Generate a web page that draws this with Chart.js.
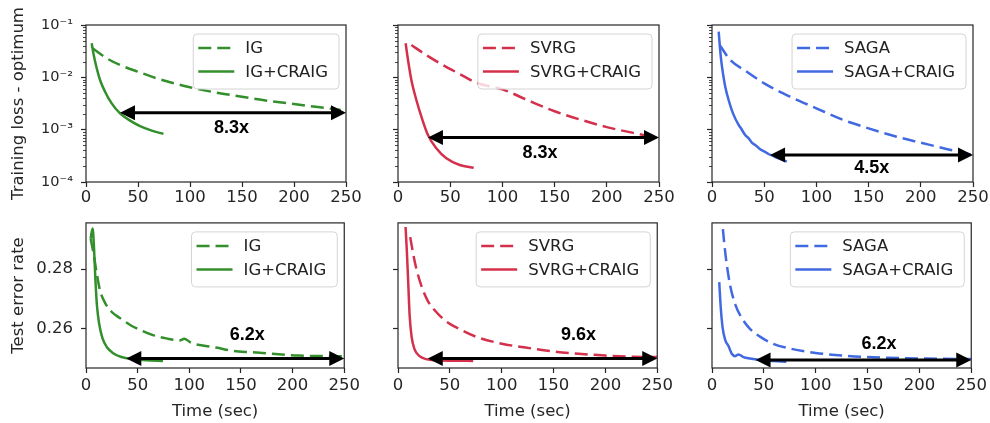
<!DOCTYPE html>
<html lang="en">
<head>
<meta charset="UTF-8">
<title>CRAIG speedup</title>
<script src="https://cdn.jsdelivr.net/npm/chart.js"></script>
<style>
  body{margin:0; background:#fff; width:990px; height:423px; position:relative; overflow:hidden;}
  .panel{position:absolute;}
</style>
</head>
<body>
<div class="panel" id="p0"><canvas id="c0"></canvas></div>
<div class="panel" id="p1"><canvas id="c1"></canvas></div>
<div class="panel" id="p2"><canvas id="c2"></canvas></div>
<div class="panel" id="p3"><canvas id="c3"></canvas></div>
<div class="panel" id="p4"><canvas id="c4"></canvas></div>
<div class="panel" id="p5"><canvas id="c5"></canvas></div>
<script>
// ---- values (time in sec) ----
const timeTicks = [0, 50, 100, 150, 200, 250];
const lossTicks = [1e-4, 1e-3, 1e-2, 1e-1];
const lossTickLabels = ['10⁻⁴', '10⁻³', '10⁻²', '10⁻¹'];
const errTicks = [0.26, 0.28];

// training loss - optimum
const igTrainTime   = [6.4, 19.9, 32.7, 50, 68, 87.3, 100, 125.8, 149.9, 174, 200, 225, 245];
const igTrainLoss   = [0.0358, 0.0231, 0.0172, 0.0128, 0.00957, 0.00746, 0.00644, 0.00509, 0.00427, 0.00358, 0.00309, 0.00267, 0.00238];
const igCTrainTime  = [5.5, 7.1, 10.3, 13.5, 18.3, 24.7, 32.7, 42.4, 52, 63.2, 74.5];
const igCTrainLoss  = [0.0447, 0.0288, 0.0149, 0.0089, 0.00532, 0.00318, 0.00205, 0.00149, 0.00117, 0.00096, 0.00083];

const svrgTrainTime  = [12.8, 27, 43, 59, 75, 100, 125, 150, 175, 200, 238];
const svrgTrainLoss  = [0.0415, 0.0267, 0.0172, 0.0116, 0.0079, 0.0059, 0.0036, 0.00225, 0.00155, 0.00112, 0.00077];
const svrgCTrainTime = [7.3, 9.6, 12.8, 17.6, 22.4, 28.7, 36.7, 46.3, 59.1, 72.5];
const svrgCTrainLoss = [0.0447, 0.0214, 0.0089, 0.00369, 0.00177, 0.00079, 0.00044, 0.000283, 0.000211, 0.000188];

const sagaTrainTime  = [7.3, 17.5, 33.4, 50, 74.8, 100, 125.8, 150, 176.8, 200, 224.5, 250];
const sagaTrainLoss  = [0.0415, 0.0214, 0.0128, 0.00767, 0.00427, 0.00256, 0.00153, 0.00106, 0.000734, 0.000565, 0.000428, 0.000328];
const sagaCTrainTime = [6.4, 7.3, 8.6, 10.5, 12.7, 15.9, 20.1, 25.5, 28, 31.8, 35, 38.2, 42, 46.2, 50, 54.1, 58, 63.7, 67, 71.7];
const sagaCTrainLoss = [0.0746, 0.0447, 0.0231, 0.0119, 0.00664, 0.00369, 0.00205, 0.00123, 0.00104, 0.00079, 0.00069, 0.000565, 0.000500, 0.000421, 0.000385, 0.000343, 0.000318, 0.000283, 0.000268, 0.000245];

// test error rate
const igTestTime   = [4.5, 7.7, 10.3, 13.5, 18.3, 24.7, 32.7, 42.4, 52, 64.8, 77.7, 90.5, 95.3, 101.7, 113, 125.8, 141.8, 161, 180, 206, 238, 250];
const igTestErr    = [0.2903, 0.2845, 0.2787, 0.2729, 0.2687, 0.2656, 0.2635, 0.2612, 0.2595, 0.2577, 0.2566, 0.2559, 0.2565, 0.2551, 0.2542, 0.2535, 0.2524, 0.2519, 0.2514, 0.2508, 0.2506, 0.2506];
const igCTestTime  = [4.5, 6.4, 7.7, 9, 10.6, 12.8, 16, 20.5, 26.3, 34.3, 45.6, 58.4, 74.5];
const igCTestErr   = [0.2903, 0.2937, 0.2877, 0.2772, 0.2677, 0.2614, 0.2566, 0.2535, 0.2516, 0.2503, 0.2496, 0.2492, 0.2490];

const svrgTestTime  = [11.8, 14.4, 17.6, 22.4, 28.7, 36.7, 46.3, 59.1, 75, 100, 123, 150, 174, 200, 225, 250];
const svrgTestErr   = [0.2908, 0.2856, 0.2803, 0.2745, 0.2693, 0.2656, 0.2624, 0.2598, 0.2572, 0.2548, 0.2535, 0.2522, 0.2514, 0.2508, 0.2504, 0.2503];
const svrgCTestTime = [7.3, 8.6, 9.9, 11.2, 13.1, 16, 20.8, 27.1, 39.9, 72.5];
const svrgCTestErr  = [0.2942, 0.2856, 0.2751, 0.2645, 0.2572, 0.2529, 0.2506, 0.2496, 0.2491, 0.2490];

const sagaTestTime  = [10.5, 12.1, 14.3, 17.5, 22.3, 28.7, 36.6, 46.2, 58.9, 74.8, 100, 125.8, 150, 200, 250];
const sagaTestErr   = [0.2935, 0.2877, 0.2814, 0.2745, 0.2682, 0.2635, 0.2598, 0.2572, 0.2548, 0.2532, 0.2517, 0.2508, 0.2503, 0.2498, 0.2496];
const sagaCTestTime = [7, 8.3, 10.2, 12.7, 15.9, 19.1, 22.3, 25.5, 30.3, 36.6, 46.2, 58.9, 71.7];
const sagaCTestErr  = [0.2756, 0.2677, 0.2603, 0.2561, 0.2540, 0.2514, 0.2506, 0.2512, 0.2503, 0.2498, 0.2493, 0.2490, 0.2487];

// speedup arrows
const trainArrowFrom  = [32.7, 28.7, 55.6];
const trainArrowLevel = [0.0021, 0.00071, 0.000327];
const trainSpeedup    = ['8.3x', '8.3x', '4.5x'];
const trainLabelTime  = [140, 136, 153];
const trainLabelLevel = [0.00107, 0.00035, 0.000182];

const testArrowFrom  = [39, 28.7, 42];
const testArrowLevel = [0.2498, 0.2498, 0.2493];
const testSpeedup    = ['6.2x', '9.6x', '6.2x'];
const testLabelTime  = [156, 174, 161];
const testLabelLevel = [0.2577, 0.2577, 0.2547];

const methods = ['IG', 'SVRG', 'SAGA'];
const colors = ['#338f2b', '#d4304b', '#4169e1'];

// ---- layout ----
const FONT = 'DejaVu Sans';
const colLeft = [0, 312, 626];
const chartW = [260, 261, 261];
const rowCfg = [
  {top: 0, height: 205, padTop: 25, axisH: 23, tickPad: 1},
  {top: 205, height: 218, padTop: 8, axisH: 55, tickPad: 3}
];
const AXIS_W = 86, PAD_R = 17;

function isDecade(v){
  const l = Math.log10(v);
  return Math.abs(l - Math.round(l)) < 1e-6;
}

const panelDecor = {
  id: 'panelDecor',
  afterDraw(chart, args, o){
    const {ctx, chartArea: a, scales} = chart;
    const x = scales.x, y = scales.y;
    ctx.save();
    // minor log ticks
    if (y.type === 'logarithmic') {
      ctx.strokeStyle = '#333'; ctx.lineWidth = 0.9;
      y.ticks.forEach(t => {
        if (t.major) return;
        const py = Math.round(y.getPixelForValue(t.value)) + 0.5;
        ctx.beginPath(); ctx.moveTo(a.left, py); ctx.lineTo(a.left - 3, py); ctx.stroke();
      });
    }
    // frame
    ctx.strokeStyle = '#262626'; ctx.lineWidth = 1.2;
    ctx.strokeRect(a.left, a.top, a.right - a.left, a.bottom - a.top);
    // speedup arrow
    const x1 = x.getPixelForValue(o.from), x2 = x.getPixelForValue(o.to);
    const py = y.getPixelForValue(o.level);
    const hl = 15, hw = 7.5;
    ctx.fillStyle = '#000'; ctx.strokeStyle = '#000'; ctx.lineWidth = 3;
    ctx.beginPath(); ctx.moveTo(x1 + hl - 1, py); ctx.lineTo(x2 - hl + 1, py); ctx.stroke();
    ctx.beginPath(); ctx.moveTo(x1, py); ctx.lineTo(x1 + hl, py - hw); ctx.lineTo(x1 + hl, py + hw); ctx.closePath(); ctx.fill();
    ctx.beginPath(); ctx.moveTo(x2, py); ctx.lineTo(x2 - hl, py - hw); ctx.lineTo(x2 - hl, py + hw); ctx.closePath(); ctx.fill();
    ctx.font = 'bold 18px "Liberation Sans", Arial, sans-serif';
    ctx.textAlign = 'center'; ctx.textBaseline = 'middle';
    ctx.fillText(o.label, x.getPixelForValue(o.labelTime), y.getPixelForValue(o.labelLevel));
    // legend box, upper right
    ctx.font = '16.5px "' + FONT + '"';
    const items = chart.data.datasets;
    const textW = Math.max(...items.map(d => ctx.measureText(d.label).width));
    const bw = 5 + 36 + 11 + textW + 11, bh = 55;
    const bx = a.right - 7 - bw, by = a.top + 9;
    ctx.beginPath();
    ctx.roundRect(bx, by, bw, bh, 4);
    ctx.fillStyle = 'rgba(255,255,255,0.8)'; ctx.fill();
    ctx.strokeStyle = '#d4d4d4'; ctx.lineWidth = 1; ctx.stroke();
    items.forEach((d, i) => {
      const ry = by + 14 + i * 23.5;
      ctx.strokeStyle = d.borderColor; ctx.lineWidth = 2.5;
      ctx.setLineDash(d.borderDash || []);
      ctx.beginPath(); ctx.moveTo(bx + 5, ry); ctx.lineTo(bx + 41, ry); ctx.stroke();
      ctx.setLineDash([]);
      ctx.fillStyle = '#222'; ctx.textAlign = 'left'; ctx.textBaseline = 'middle';
      ctx.fillText(d.label, bx + 52, ry + 1);
    });
    ctx.restore();
  }
};

function series(label, t, v, color, dashed){
  return {
    label, data: t.map((tt, i) => ({x: tt, y: v[i]})),
    borderColor: color, borderWidth: 2.5, borderDash: dashed ? [13, 6] : [],
    borderCapStyle: 'butt', borderJoinStyle: 'round',
    pointRadius: 0, fill: false, cubicInterpolationMode: 'monotone'
  };
}

function makePanel(idx, row, col, datasets, arrow){
  const r = rowCfg[row];
  const W = AXIS_W + chartW[col] + PAD_R;
  const div = document.getElementById('p' + idx);
  div.style.left = colLeft[col] + 'px'; div.style.top = r.top + 'px';
  const cv = document.getElementById('c' + idx);
  cv.width = W; cv.height = r.height;
  cv.style.width = W + 'px'; cv.style.height = r.height + 'px';

  const logY = row === 0;
  const yScale = logY ? {
    type: 'logarithmic', min: 1e-4, max: 1e-1,
    afterBuildTicks: s => {
      const vals = [];
      lossTicks.forEach((d, i) => {
        if (i === lossTicks.length - 1) { vals.push(d); return; }
        for (let k = 1; k < 10; k++) vals.push(d * k);
      });
      s.ticks = vals.map(v => ({value: v, major: isDecade(v)}));
    },
    ticks: {
      autoSkip: false, padding: 8, color: '#262626', font: {family: FONT, size: 14.5},
      callback: v => {
        if (col !== 0) return '';
        const i = lossTicks.findIndex(t => Math.abs(Math.log10(t) - Math.log10(v)) < 1e-6);
        return i >= 0 ? lossTickLabels[i] : '';
      }
    }
  } : {
    type: 'linear', min: 0.2466, max: 0.2956,
    afterBuildTicks: s => { s.ticks = errTicks.map(v => ({value: v, major: true})); },
    ticks: {
      autoSkip: false, padding: 8, color: '#262626', font: {family: FONT, size: 16.5},
      callback: v => col === 0 ? v.toFixed(2) : ''
    }
  };
  yScale.afterFit = s => { s.width = AXIS_W; };
  yScale.border = {display: false};
  yScale.grid = {
    drawOnChartArea: false, drawTicks: true, tickLength: 5, tickWidth: 1.2,
    tickColor: c => (c.tick && c.tick.major) ? '#262626' : 'rgba(0,0,0,0)'
  };
  yScale.title = {
    display: col === 0, text: logY ? 'Training loss - optimum' : 'Test error rate',
    color: '#262626', font: {family: FONT, size: 16.5}, padding: {top: 8.6, bottom: 0}
  };

  new Chart(cv, {
    type: 'line',
    data: {datasets},
    options: {
      responsive: false, animation: false, events: [],
      layout: {padding: {top: r.padTop, right: PAD_R, left: 0, bottom: 0}},
      plugins: {legend: {display: false}, tooltip: {enabled: false}, panelDecor: arrow},
      scales: {
        x: {
          type: 'linear', min: 0, max: 250,
          afterBuildTicks: s => { s.ticks = timeTicks.map(v => ({value: v})); },
          afterFit: s => { s.height = r.axisH; },
          border: {display: false},
          grid: {drawOnChartArea: false, drawTicks: true, tickLength: 5, tickWidth: 1.2, tickColor: '#262626'},
          ticks: {autoSkip: false, maxRotation: 0, padding: r.tickPad, color: '#262626', font: {family: FONT, size: 16.5},
                  callback: v => String(v)},
          title: {display: row === 1, text: 'Time (sec)', color: '#262626',
                  font: {family: FONT, size: 16.5}, padding: {top: 0, bottom: 1}}
        },
        y: yScale
      }
    },
    plugins: [panelDecor]
  });
}

const trainData = [
  [igTrainTime, igTrainLoss, igCTrainTime, igCTrainLoss],
  [svrgTrainTime, svrgTrainLoss, svrgCTrainTime, svrgCTrainLoss],
  [sagaTrainTime, sagaTrainLoss, sagaCTrainTime, sagaCTrainLoss]
];
const testData = [
  [igTestTime, igTestErr, igCTestTime, igCTestErr],
  [svrgTestTime, svrgTestErr, svrgCTestTime, svrgCTestErr],
  [sagaTestTime, sagaTestErr, sagaCTestTime, sagaCTestErr]
];

methods.forEach((m, c) => {
  const tr = trainData[c], te = testData[c];
  makePanel(c, 0, c, [
    series(m, tr[0], tr[1], colors[c], true),
    series(m + '+CRAIG', tr[2], tr[3], colors[c], false)
  ], {from: trainArrowFrom[c], to: 250, level: trainArrowLevel[c], label: trainSpeedup[c],
      labelTime: trainLabelTime[c], labelLevel: trainLabelLevel[c]});
  makePanel(c + 3, 1, c, [
    series(m, te[0], te[1], colors[c], true),
    series(m + '+CRAIG', te[2], te[3], colors[c], false)
  ], {from: testArrowFrom[c], to: 250, level: testArrowLevel[c], label: testSpeedup[c],
      labelTime: testLabelTime[c], labelLevel: testLabelLevel[c]});
});
</script>
</body>
</html>
